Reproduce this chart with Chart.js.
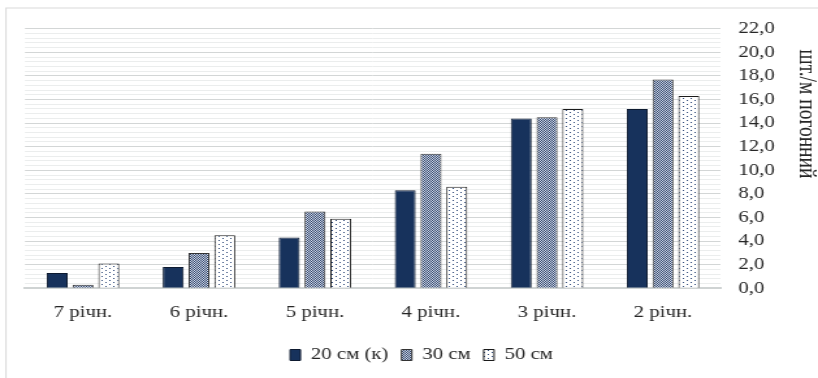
<!DOCTYPE html>
<html>
<head>
<meta charset="utf-8">
<script src="https://cdn.jsdelivr.net/npm/chart.js@4"></script>
<style>
  html, body { margin: 0; padding: 0; background: #ffffff; overflow: hidden; }
  #wrap { position: absolute; left: 0; top: 0; width: 629px; height: 378px; transform: scaleX(1.3005); transform-origin: 0 0; }
</style>
</head>
<body>
<div id="wrap"><canvas id="c"></canvas></div>
<script>
// ---- data ----
const categories = ['7 річн.', '6 річн.', '5 річн.', '4 річн.', '3 річн.', '2 річн.'];
const seriesNames = ['20 см (к)', '30 см', '50 см'];
const values20 = [1.3, 1.8, 4.3, 8.3, 14.4, 15.2];
const values30 = [0.3, 3.0, 6.5, 11.4, 14.5, 17.7];
const values50 = [2.1, 4.5, 5.9, 8.6, 15.2, 16.3];
const axisTitle = 'шт./м погонний';
const yMin = 0, yMax = 22, yMajorStep = 2, yMinorStep = 0.4;

// ---- patterns ----
function makePattern(w, h, bg, fg, dots) {
  const c = document.createElement('canvas');
  c.width = w; c.height = h;
  const g = c.getContext('2d');
  g.fillStyle = bg; g.fillRect(0, 0, w, h);
  g.fillStyle = fg;
  dots.forEach(d => g.fillRect(d[0], d[1], 1, 1));
  return g.createPattern(c, 'repeat');
}
const ctx = document.getElementById('c').getContext('2d');
const navy = '#17325c';
const checker = makePattern(2, 2, '#d7dce6', '#2d4470', [[0, 0], [1, 1]]);
const dotted = makePattern(6, 4, '#ffffff', '#2f4a7a', [[0, 0], [3, 2]]);

const textColor = '#262626';
const serif = "'Liberation Serif', 'Times New Roman', serif";

const framePlugin = {
  id: 'frame',
  beforeDraw(chart) {
    const c = chart.ctx;
    c.save();
    c.strokeStyle = '#d9d9d9';
    c.lineWidth = 1;
    c.strokeRect(4.6, 8, chart.width + 10, chart.height + 10);
    c.restore();
  },
  afterDraw(chart) {
    const c = chart.ctx;
    c.save();
    c.translate(620.5, 114);
    c.rotate(Math.PI / 2);
    c.font = '19.5px ' + serif;
    c.fillStyle = textColor;
    c.textAlign = 'center';
    c.textBaseline = 'middle';
    c.fillText(axisTitle, 0, 0);
    c.restore();
  }
};

const isMajor = v => Math.abs(Math.round(v * 10) % (yMajorStep * 10)) === 0;

new Chart(ctx, {
  type: 'bar',
  data: {
    labels: categories,
    datasets: [
      { label: seriesNames[0], data: values20, backgroundColor: navy, borderColor: '#0d1a30', borderWidth: 1 },
      { label: seriesNames[1], data: values30, backgroundColor: checker, borderColor: '#333333', borderWidth: 1 },
      { label: seriesNames[2], data: values50, backgroundColor: dotted, borderColor: '#1a1a1a', borderWidth: 1 }
    ]
  },
  options: {
    responsive: true,
    maintainAspectRatio: false,
    animation: false,
    devicePixelRatio: 1,
    layout: { padding: { left: 19.2, top: 28.7, right: 0, bottom: 5 } },
    datasets: { bar: { categoryPercentage: 0.667, barPercentage: 0.81 } },
    plugins: {
      legend: {
        position: 'bottom',
        labels: {
          boxWidth: 8, boxHeight: 11, padding: 10,
          color: textColor,
          font: { family: serif, size: 16 }
        }
      },
      tooltip: { enabled: false }
    },
    scales: {
      x: {
        grid: { display: false, drawTicks: false },
        border: { display: true, color: '#cfd3d3', width: 2 },
        ticks: { color: textColor, font: { family: serif, size: 16 }, padding: 15 },
        afterFit(scale) { scale.height = 48.7; }
      },
      y: {
        position: 'right',
        min: yMin, max: yMax,
        grid: {
          drawTicks: false,
          color: c => isMajor(c.tick.value) ? '#d3d6d6' : '#ebeded',
          lineWidth: 1
        },
        border: { display: false },
        ticks: {
          stepSize: yMinorStep,
          autoSkip: false,
          padding: 13.3,
          color: textColor,
          font: { family: serif, size: 16 },
          callback: v => isMajor(v) ? v.toFixed(1).replace('.', ',') : ''
        },
        afterFit(scale) { scale.width = 74.6; }
      }
    }
  },
  plugins: [framePlugin]
});
</script>
</body>
</html>
